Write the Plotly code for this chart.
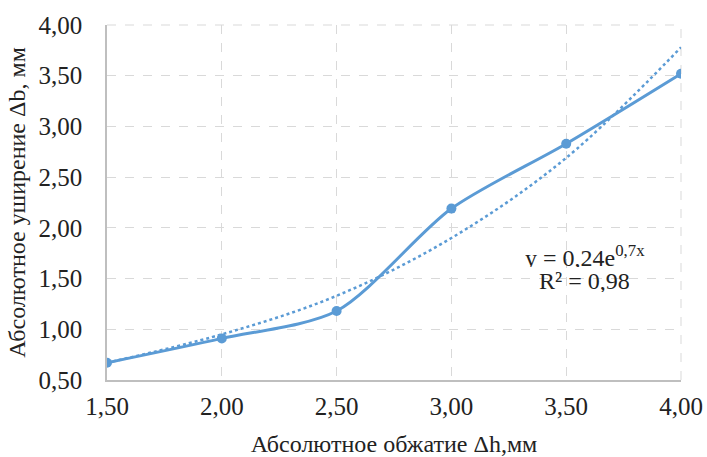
import plotly.graph_objects as go

x_vals = [1.5, 2.0, 2.5, 3.0, 3.5, 4.0]
y_vals = [0.67, 0.91, 1.18, 2.19, 2.83, 3.52]
trend_y = [0.67, 0.95, 1.33, 1.90, 2.69, 3.78]
x_ticks = [1.5, 2.0, 2.5, 3.0, 3.5, 4.0]
x_tick_text = ["1,50", "2,00", "2,50", "3,00", "3,50", "4,00"]
y_ticks = [0.5, 1.0, 1.5, 2.0, 2.5, 3.0, 3.5, 4.0]
y_tick_text = ["0,50", "1,00", "1,50", "2,00", "2,50", "3,00", "3,50", "4,00"]

blue = "#5B9BD5"
font_family = "'Liberation Serif', 'Times New Roman', Times, serif"
txt = "#222222"

fig = go.Figure()
fig.add_trace(go.Scatter(
    x=x_vals, y=trend_y, mode="lines",
    line=dict(color=blue, width=2.5, dash="dot", shape="spline", smoothing=1),
    hoverinfo="skip", showlegend=False))
fig.add_trace(go.Scatter(
    x=x_vals, y=y_vals, mode="lines+markers",
    line=dict(color=blue, width=3, shape="spline", smoothing=0.8),
    marker=dict(color=blue, size=10),
    showlegend=False))

fig.add_annotation(x=3.58, y=1.72, xref="x", yref="y", xanchor="center", yanchor="middle",
                   text="y = 0,24e<sup>0,7x</sup>", showarrow=False, height=22,
                   font=dict(family=font_family, size=24, color=txt))
fig.add_annotation(x=3.58, y=1.48, xref="x", yref="y", xanchor="center", yanchor="middle",
                   text="R² = 0,98", showarrow=False, height=22,
                   font=dict(family=font_family, size=24, color=txt))

fig.update_layout(
    width=707, height=457,
    margin=dict(l=107, r=26, t=25, b=77, autoexpand=False),
    paper_bgcolor="white", plot_bgcolor="white",
    font=dict(family=font_family, size=25, color=txt),
    xaxis=dict(range=[1.5, 4.0], tickvals=x_ticks, ticktext=x_tick_text,
               showgrid=True, gridcolor="#D9D9D9", griddash="dash", gridwidth=1,
               showline=True, linecolor="#BFBFBF", linewidth=1.5,
               zeroline=False, ticks="", ticklen=0, automargin=False,
               ticklabelstandoff=3,
               title=dict(text="Абсолютное обжатие Δh,мм", font=dict(family=font_family, size=24, color=txt), standoff=17),
               tickfont=dict(family=font_family, size=25, color=txt)),
    yaxis=dict(range=[0.5, 4.0], tickvals=y_ticks, ticktext=y_tick_text,
               showgrid=True, gridcolor="#D9D9D9", griddash="dash", gridwidth=1,
               showline=True, linecolor="#BFBFBF", linewidth=1.5,
               zeroline=False, ticks="", ticklen=0, automargin=False,
               ticklabelstandoff=18,
               title=dict(text="Абсолютное уширение Δb, мм", font=dict(family=font_family, size=24, color=txt), standoff=6),
               tickfont=dict(family=font_family, size=25, color=txt)),
)
fig.add_shape(type="line", xref="paper", yref="paper", x0=0, x1=1, y0=1, y1=1,
              line=dict(color="#D9D9D9", width=1, dash="dash"), layer="below")
fig.add_shape(type="line", xref="paper", yref="paper", x0=1, x1=1, y0=0, y1=1,
              line=dict(color="#D9D9D9", width=1, dash="dash"), layer="below")

# remove the browser's default body margin so the figure fills the window exactly
fig.write_html("out.html",
               config={"displayModeBar": False},
               post_script="document.body.style.margin='0';document.body.style.overflow='hidden';")
